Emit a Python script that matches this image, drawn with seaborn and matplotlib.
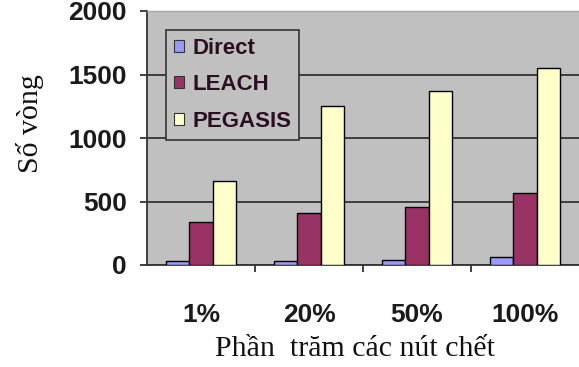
import matplotlib
matplotlib.use("Agg")
import matplotlib.pyplot as plt
import seaborn as sns
import pandas as pd
from matplotlib.patches import Patch

# Number of rounds until a given share of nodes has died
categories = ["1%", "20%", "50%", "100%"]
series_names = ["Direct", "LEACH", "PEGASIS"]
direct = [35, 35, 40, 60]
leach = [340, 410, 460, 570]
pegasis = [660, 1250, 1370, 1555]
y_ticks = [0, 500, 1000, 1500, 2000]

colors = ["#9999FF", "#993366", "#FFFFCC"]
bg = "#C0C0C0"

df = pd.DataFrame({
    "category": categories * 3,
    "protocol": [series_names[0]] * 4 + [series_names[1]] * 4 + [series_names[2]] * 4,
    "rounds": direct + leach + pegasis,
})

sns.set_theme(style="white")
fig = plt.figure(figsize=(5.79, 3.67), dpi=100)
ax = fig.add_axes([147 / 579, 1 - 265 / 367, 432 / 579, 254 / 367])
ax.set_facecolor(bg)

sns.barplot(data=df, x="category", y="rounds", hue="protocol",
            order=categories, hue_order=series_names, palette=colors,
            width=0.65, edgecolor="black", linewidth=1.0, saturation=1,
            ax=ax, legend=False, zorder=3)

ax.set_xlim(-0.5, 3.5)
ax.set_ylim(0, 2000)
ax.set_yticks(y_ticks)
ax.yaxis.grid(True, color="#333333", linewidth=1.3, zorder=1)
ax.set_axisbelow(True)

# Category labels centred, tick marks on group boundaries
ax.set_xticks(range(len(categories)))
ax.set_xticklabels(categories)
ax.set_xticks([0.5, 1.5, 2.5], minor=True)
ax.tick_params(axis="x", which="major", length=0, pad=27)
ax.tick_params(axis="x", which="minor", length=5, width=1.3, color="#333333", direction="out", bottom=True)
ax.tick_params(axis="y", which="major", length=5, width=1.3, color="#333333", direction="out", left=True, pad=9.5)

for lbl in ax.get_xticklabels() + ax.get_yticklabels():
    lbl.set_fontfamily("Liberation Sans")
    lbl.set_fontweight("bold")
    lbl.set_fontsize(19)
    lbl.set_color("#1a1a1a")

ax.spines["right"].set_visible(False)
ax.spines["top"].set_color("#a8a8a8")
ax.spines["top"].set_linewidth(1.0)
ax.spines["left"].set_color("#333333")
ax.spines["left"].set_linewidth(1.3)
ax.spines["bottom"].set_color("#333333")
ax.spines["bottom"].set_linewidth(1.3)

ax.set_xlabel("Phần  trăm các nút chết", fontfamily="Liberation Serif", fontsize=21.5,
              labelpad=7, color="#111111")
ax.xaxis.label.set_x(0.481)
ax.set_ylabel("Số vòng", fontfamily="Liberation Serif", fontsize=21.5,
              color="#111111")
ax.yaxis.set_label_coords(-0.238, 0.555)

handles = [Patch(facecolor=c, edgecolor="#333333", linewidth=0.8) for c in colors]
leg = ax.legend(handles, series_names, loc="upper left",
                bbox_to_anchor=(19 / 432, 235 / 254), frameon=True,
                prop={"family": "Liberation Sans", "weight": "bold", "size": 16},
                handlelength=0.45, handleheight=0.45, handletextpad=0.4,
                labelspacing=0.7, borderpad=0.35, borderaxespad=0, fancybox=False)
leg.get_frame().set_facecolor(bg)
leg.get_frame().set_edgecolor("#333333")
leg.get_frame().set_linewidth(1.2)
leg.get_frame().set_alpha(1)
for t in leg.get_texts():
    t.set_color("#2a0f22")

fig.savefig("out.png", dpi=100)
